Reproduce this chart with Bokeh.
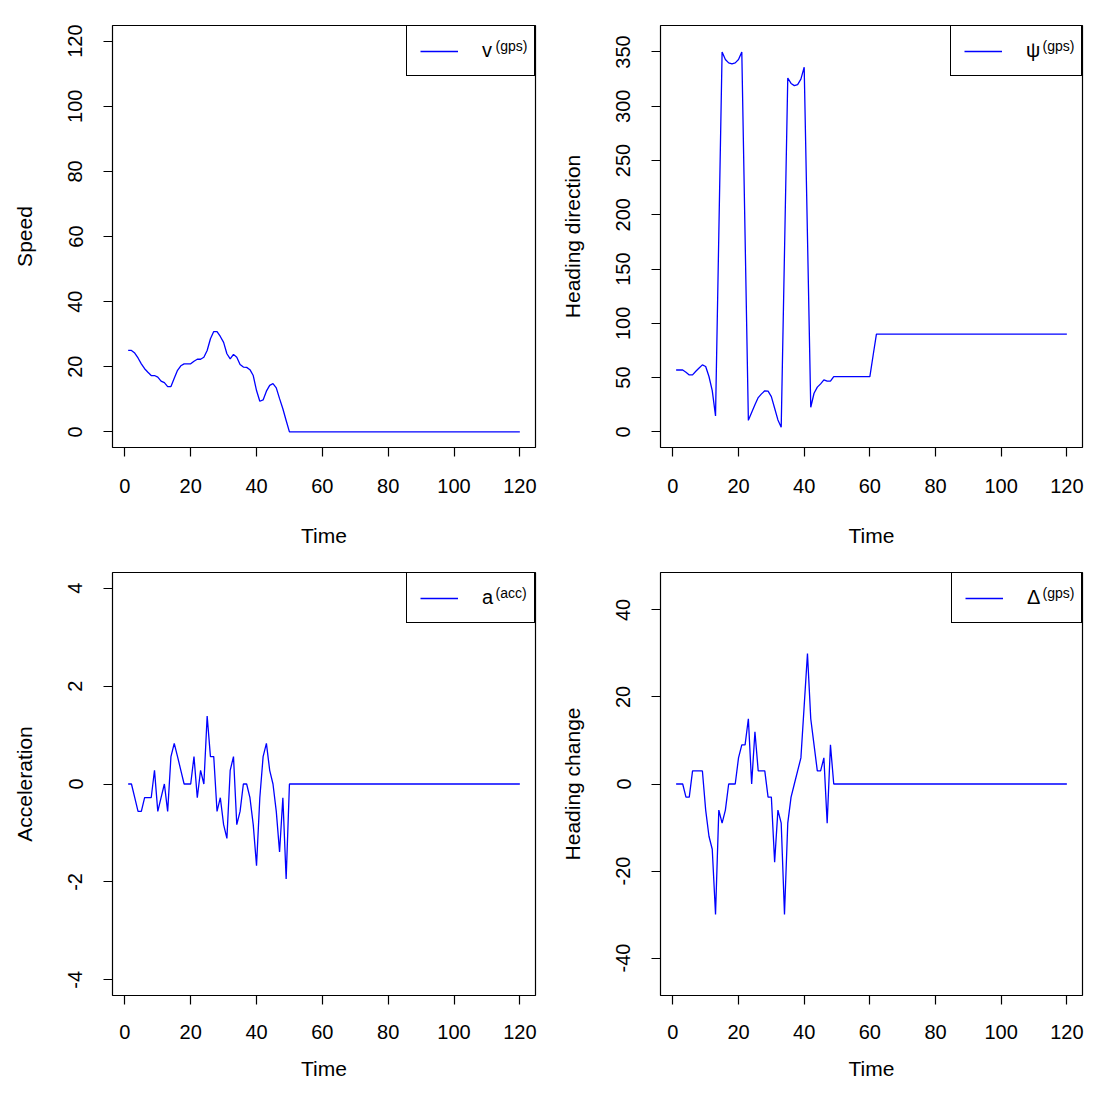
from bokeh.plotting import figure
from bokeh.layouts import column, row
from bokeh.models import FixedTicker, Range1d, Label
from bokeh.embed import file_html
from bokeh.resources import INLINE

time = list(range(1, 121))

speed = [
    25.0, 25.0, 24.2, 22.7, 20.9, 19.4, 18.3, 17.3, 17.3, 16.8,
    15.6, 15.1, 13.9, 13.9, 16.5, 18.9, 20.3, 20.9, 20.9, 20.9,
    21.7, 22.3, 22.3, 22.9, 25.0, 28.6, 30.8, 30.8, 29.3, 27.5,
    24.0, 22.4, 23.8, 22.9, 20.7, 19.9, 19.8, 19.1, 17.3, 12.7,
    9.4, 9.8, 12.5, 14.3, 14.8, 13.5, 10.2, 7.1, 3.5, 0.0,
    0, 0, 0, 0, 0, 0, 0, 0, 0, 0,
    0, 0, 0, 0, 0, 0, 0, 0, 0, 0,
    0, 0, 0, 0, 0, 0, 0, 0, 0, 0,
    0, 0, 0, 0, 0, 0, 0, 0, 0, 0,
    0, 0, 0, 0, 0, 0, 0, 0, 0, 0,
    0, 0, 0, 0, 0, 0, 0, 0, 0, 0,
    0, 0, 0, 0, 0, 0, 0, 0, 0, 0,
]

heading = [
    57, 57, 57, 55, 52.5, 52.5, 55.8, 58.8, 61.7, 60.2,
    51, 38, 14.7, 182, 350, 343, 340, 339, 340, 343,
    350, 180, 10.6, 17.8, 24.9, 31.6, 35, 37.8, 37.5, 32.5,
    21.8, 11, 4.3, 165, 326, 321, 319, 320, 325, 336,
    180, 22.7, 35.6, 41.2, 44.2, 47.9, 46.7, 46.7, 50.9, 50.9,
    50.9, 50.9, 50.9, 50.9, 50.9, 50.9, 50.9, 50.9, 50.9, 50.9,
    70.6, 90, 90, 90, 90, 90, 90, 90, 90, 90,
    90, 90, 90, 90, 90, 90, 90, 90, 90, 90,
    90, 90, 90, 90, 90, 90, 90, 90, 90, 90,
    90, 90, 90, 90, 90, 90, 90, 90, 90, 90,
    90, 90, 90, 90, 90, 90, 90, 90, 90, 90,
    90, 90, 90, 90, 90, 90, 90, 90, 90, 90,
]

accel = [
    0, 0, -0.28, -0.56, -0.56, -0.28, -0.28, -0.28, 0.28, -0.56,
    -0.28, 0, -0.56, 0.56, 0.83, 0.56, 0.28, 0, 0, 0,
    0.56, -0.28, 0.28, 0, 1.39, 0.56, 0.56, -0.56, -0.28, -0.83,
    -1.11, 0.28, 0.56, -0.83, -0.56, 0, 0, -0.28, -0.83, -1.67,
    -0.28, 0.56, 0.83, 0.28, 0, -0.56, -1.39, -0.28, -1.94, 0,
    0, 0, 0, 0, 0, 0, 0, 0, 0, 0,
    0, 0, 0, 0, 0, 0, 0, 0, 0, 0,
    0, 0, 0, 0, 0, 0, 0, 0, 0, 0,
    0, 0, 0, 0, 0, 0, 0, 0, 0, 0,
    0, 0, 0, 0, 0, 0, 0, 0, 0, 0,
    0, 0, 0, 0, 0, 0, 0, 0, 0, 0,
    0, 0, 0, 0, 0, 0, 0, 0, 0, 0,
]

heading_change = [
    0, 0, 0, -3, -3, 3, 3, 3, 3, -6,
    -12, -15, -30, -6, -9, -6, 0, 0, 0, 6,
    9, 9, 15, 0, 12, 3, 3, 3, -3, -3,
    -18, -6, -9, -30, -9, -3, 0, 3, 6, 18,
    30, 15, 9, 3, 3, 6, -9, 9, 0, 0,
    0, 0, 0, 0, 0, 0, 0, 0, 0, 0,
    0, 0, 0, 0, 0, 0, 0, 0, 0, 0,
    0, 0, 0, 0, 0, 0, 0, 0, 0, 0,
    0, 0, 0, 0, 0, 0, 0, 0, 0, 0,
    0, 0, 0, 0, 0, 0, 0, 0, 0, 0,
    0, 0, 0, 0, 0, 0, 0, 0, 0, 0,
    0, 0, 0, 0, 0, 0, 0, 0, 0, 0,
]

x_ticks = [0, 20, 40, 60, 80, 100, 120]
speed_ticks = [0, 20, 40, 60, 80, 100, 120]
heading_ticks = [0, 50, 100, 150, 200, 250, 300, 350]
accel_ticks = [-4, -2, 0, 2, 4]
change_ticks = [-40, -20, 0, 20, 40]

speed_lim = (0, 120)
heading_lim = (0, 360)
accel_lim = (-4, 4)
change_lim = (-45, 45)

FONT = "Liberation Sans"
TICK_FS = "20px"
LAB_FS = "21px"


def make_panel(y, ylabel, yticks, ylim, sym, sup, label_w,
               bl, br, bt, bb, fw, fh, xtick_standoff, xlab_standoff):
    x0, x1 = 1, 120
    xp = (x1 - x0) * 0.04
    lo, hi = ylim
    yp = (hi - lo) * 0.04
    xr = Range1d(x0 - xp, x1 + xp)
    yr = Range1d(lo - yp, hi + yp)
    p = figure(
        frame_width=fw, frame_height=fh,
        min_border_left=bl, min_border_right=br,
        min_border_top=bt, min_border_bottom=bb,
        x_range=xr, y_range=yr,
        output_backend="svg", toolbar_location=None, tools="",
        background_fill_color="white", border_fill_color="white",
    )
    p.xgrid.visible = False
    p.ygrid.visible = False
    p.outline_line_color = "black"
    p.outline_line_width = 1.2
    p.outline_line_alpha = 1.0

    p.line(time, y, line_color="#0000FF", line_width=1.3, legend_label=sym)

    p.xaxis.ticker = FixedTicker(ticks=x_ticks)
    p.yaxis.ticker = FixedTicker(ticks=yticks)
    p.yaxis.major_label_overrides = {t: str(t) for t in yticks if t < 0}
    p.xaxis.axis_label = "Time"
    p.yaxis.axis_label = ylabel
    for ax in (p.xaxis, p.yaxis):
        ax.axis_line_color = None
        ax.major_tick_line_color = "black"
        ax.major_tick_line_width = 1.2
        ax.major_tick_out = 9
        ax.major_tick_in = 0
        ax.minor_tick_line_color = None
        ax.major_label_text_font = FONT
        ax.major_label_text_font_size = TICK_FS
        ax.major_label_text_color = "black"
        ax.axis_label_text_font = FONT
        ax.axis_label_text_font_size = LAB_FS
        ax.axis_label_text_font_style = "normal"
        ax.axis_label_text_color = "black"
    p.xaxis.major_label_standoff = xtick_standoff
    p.yaxis.major_label_standoff = 21
    p.xaxis.axis_label_standoff = xlab_standoff
    p.yaxis.axis_label_standoff = 30
    p.yaxis.major_label_orientation = "parallel"

    lg = p.legend[0]
    lg.location = "top_right"
    lg.margin = 0
    lg.padding = 13
    lg.spacing = 0
    lg.border_line_color = "black"
    lg.border_line_width = 1.2
    lg.border_line_alpha = 1.0
    lg.background_fill_alpha = 0.0
    lg.glyph_width = 38
    lg.label_standoff = 24
    lg.label_width = label_w
    lg.label_text_font = FONT
    lg.label_text_font_size = TICK_FS
    lg.label_text_color = "black"

    # superscript part of the legend label
    px_x = fw / (xr.end - xr.start)
    px_y = fh / (yr.end - yr.start)
    sup_label = Label(
        x=xr.end - 40 / px_x, y=yr.end - 12 / px_y,
        x_units="data", y_units="data",
        text=sup, text_font=FONT, text_font_size="14px",
        text_baseline="top", text_align="left", text_color="black",
    )
    p.add_layout(sup_label)
    return p


p1 = make_panel(speed, "Speed", speed_ticks, speed_lim, "v", "(gps)", 39,
                112, 20, 25, 108, 423, 422, 22, 28)
p2 = make_panel(heading, "Heading direction", heading_ticks, heading_lim, "\u03c8", "(gps)", 42,
                105, 5, 25, 108, 422, 422, 22, 28)
p3 = make_panel(accel, "Acceleration", accel_ticks, accel_lim, "a", "(acc)", 39,
                112, 20, 17, 92, 423, 423, 20, 15)
p4 = make_panel(heading_change, "Heading change", change_ticks, change_lim, "\u0394", "(gps)", 41,
                105, 5, 17, 92, 422, 423, 20, 15)

layout = column(row(p1, p2), row(p3, p4))

open("out.html", "w").write(file_html(layout, INLINE))
